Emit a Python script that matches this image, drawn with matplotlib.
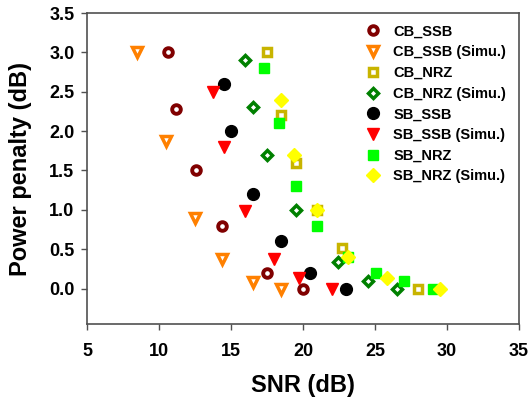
import matplotlib
matplotlib.use("Agg")
import matplotlib.pyplot as plt

plt.rcParams['font.family'] = ['Liberation Sans', 'DejaVu Sans']
plt.rcParams['font.weight'] = 'bold'

# power penalty vs SNR, measured and simulated
cb_ssb_x = [10.6, 11.2, 12.6, 14.4, 17.5, 20.0]
cb_ssb_y = [3.0, 2.28, 1.5, 0.8, 0.2, 0.0]

cb_ssb_sim_x = [8.5, 10.5, 12.5, 14.4, 16.5, 18.5]
cb_ssb_sim_y = [3.0, 1.88, 0.89, 0.38, 0.08, 0.0]

cb_nrz_x = [17.5, 18.5, 19.5, 21.0, 22.7, 28.0]
cb_nrz_y = [3.0, 2.2, 1.6, 1.0, 0.52, 0.0]

cb_nrz_sim_x = [16.0, 16.5, 17.5, 19.5, 22.4, 24.5, 26.5]
cb_nrz_sim_y = [2.9, 2.3, 1.7, 1.0, 0.34, 0.1, 0.0]

sb_ssb_x = [14.5, 15.0, 16.5, 18.5, 20.5, 23.0]
sb_ssb_y = [2.6, 2.0, 1.2, 0.6, 0.2, 0.0]

sb_ssb_sim_x = [13.75, 14.5, 16.0, 18.0, 19.7, 22.0]
sb_ssb_sim_y = [2.5, 1.8, 0.98, 0.38, 0.14, 0.0]

sb_nrz_x = [17.3, 18.3, 19.5, 21.0, 23.1, 25.1, 27.0, 29.0]
sb_nrz_y = [2.8, 2.1, 1.3, 0.8, 0.4, 0.2, 0.1, 0.0]

sb_nrz_sim_x = [18.5, 19.4, 21.0, 23.1, 25.8, 29.5]
sb_nrz_sim_y = [2.4, 1.7, 1.0, 0.4, 0.14, 0.0]

fig = plt.figure(figsize=(5.30, 4.01), dpi=100)
ax = fig.add_axes([87 / 530, 1 - 324 / 401, 432 / 530, 311 / 401])

# open markers: thick edge, small hole
ax.plot(cb_ssb_x, cb_ssb_y, 'o', ms=6.2, mfc='white', mec='#800000', mew=2.8, ls='none', label='CB_SSB')
ax.plot(cb_ssb_sim_x, cb_ssb_sim_y, 'v', ms=6.8, mfc='white', mec='#ff8000', mew=2.5, ls='none', label='CB_SSB (Simu.)')
ax.plot(cb_nrz_x, cb_nrz_y, 's', ms=5.5, mfc='white', mec='#c8b400', mew=2.5, ls='none', label='CB_NRZ')
ax.plot(cb_nrz_sim_x, cb_nrz_sim_y, 'D', ms=5.2, mfc='white', mec='#008000', mew=2.5, ls='none', label='CB_NRZ (Simu.)')
# filled markers
ax.plot(sb_ssb_x, sb_ssb_y, 'o', ms=8.5, color='black', ls='none', label='SB_SSB')
ax.plot(sb_ssb_sim_x, sb_ssb_sim_y, 'v', ms=8.5, color='#ff0000', ls='none', label='SB_SSB (Simu.)')
ax.plot(sb_nrz_x, sb_nrz_y, 's', ms=7.5, color='#00ff00', ls='none', label='SB_NRZ')
ax.plot(sb_nrz_sim_x, sb_nrz_sim_y, 'D', ms=7, color='#ffff00', ls='none', label='SB_NRZ (Simu.)')

ax.set_xlim(5, 35)
ax.set_ylim(-0.45, 3.5)
ax.set_xticks([5, 10, 15, 20, 25, 30, 35])
ax.set_yticks([0.0, 0.5, 1.0, 1.5, 2.0, 2.5, 3.0, 3.5])
ax.set_yticklabels([f"{v:.1f}" for v in ax.get_yticks()])

for sp in ax.spines.values():
    sp.set_color('#505050')
    sp.set_linewidth(1.2)
ax.tick_params(direction='out', length=4, width=1, color='#505050',
               labelsize=13, top=False, right=False)
ax.tick_params(axis='x', pad=10)
ax.tick_params(axis='y', pad=5)
for lab in ax.get_xticklabels() + ax.get_yticklabels():
    lab.set_fontweight('bold')

ax.set_xlabel('SNR (dB)', fontsize=17, fontweight='bold', labelpad=10)
ax.set_ylabel('Power penalty (dB)', fontsize=17, fontweight='bold', labelpad=12)

ax.legend(loc='upper left', bbox_to_anchor=(0.645, 0.963), frameon=False,
          handlelength=1.0, handletextpad=0.9, labelspacing=0.46,
          borderpad=0, borderaxespad=0, numpoints=1,
          prop={'weight': 'bold', 'size': 10.5})

fig.savefig('out.png', dpi=100)
